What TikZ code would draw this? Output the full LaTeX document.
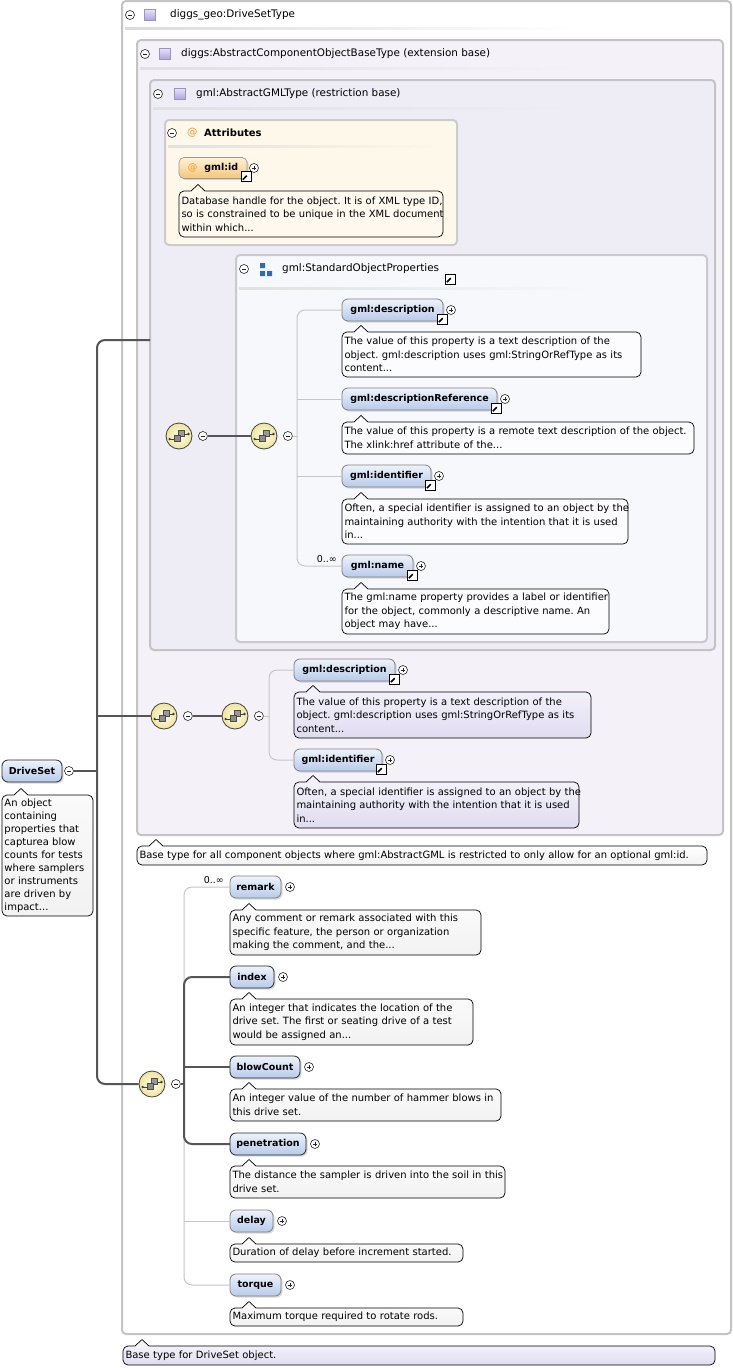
\documentclass[tikz,border=0pt]{standalone}
\usepackage{fontspec}
\setmainfont{DejaVu Sans}
\usetikzlibrary{calc,shadows}
\frenchspacing
\definecolor{boxgray}{HTML}{C4C4C4}
\definecolor{attedge}{HTML}{CCCCCC}
\definecolor{sopedge}{HTML}{CACACE}
\definecolor{b2fill}{HTML}{F4F2F8}
\definecolor{b3fill}{HTML}{EEECF5}
\definecolor{attfill}{HTML}{FDF8EA}
\definecolor{attdesc}{HTML}{FDF9EF}
\definecolor{sopfill}{HTML}{F7F8FC}
\definecolor{sopdesc}{HTML}{FCFCFE}
\definecolor{elemtop}{HTML}{EEF3FB}
\definecolor{elembot}{HTML}{B7CBEA}
\definecolor{idtop}{HTML}{FEF1D4}
\definecolor{idbot}{HTML}{F5C679}
\definecolor{seqin}{HTML}{FFFDE8}
\definecolor{seqout}{HTML}{EEE49C}
\definecolor{thickc}{HTML}{555555}
\definecolor{thinc}{HTML}{C6C6C6}
\definecolor{lavtop}{HTML}{F3F1FA}
\definecolor{lavbot}{HTML}{E0DCF0}
\definecolor{sqtop}{HTML}{E6E2F7}
\definecolor{sqbot}{HTML}{ADA3DB}
\definecolor{sqedge}{HTML}{9A92C8}
\definecolor{atorange}{HTML}{EE9A2A}
\definecolor{grpblue}{HTML}{2C6CB4}
\definecolor{plaindesc}{HTML}{FAFAFA}
\definecolor{plaindescb}{HTML}{F2F2F2}
\newcommand\notch[2]{%
  \fill[#2] ($(#1.north west)+(11.3,1)$) -- ($(#1.north west)+(19,-6.5)$) -- ($(#1.north west)+(26.7,1)$) -- cycle;
  \draw[line width=0.7pt, line join=round] ($(#1.north west)+(12,0)$) -- ($(#1.north west)+(19,-6.5)$) -- ($(#1.north west)+(26,0)$);}
\newcommand\dline[1]{\mbox{#1}}
\begin{document}
\begin{tikzpicture}[x=1pt,y=-1pt,
  typebox/.style={draw=boxgray, line width=2pt, rounded corners=4pt, anchor=north west, inner sep=0pt, outer sep=0pt},
  hdr/.style={anchor=west, inner sep=0pt, font=\fontsize{10.4}{12}\selectfont},
  pmbase/.style={circle, draw=black!85, line width=0.6pt, fill=white, minimum size=9pt, inner sep=0pt},
  pmminus/.style={pmbase, path picture={\draw[shift={(path picture bounding box.center)}, line width=0.6pt] (-2.4,0) -- (2.4,0);}},
  pmplus/.style={pmbase, path picture={\draw[shift={(path picture bounding box.center)}, line width=0.6pt] (-2.4,0) -- (2.4,0) (0,-2.4) -- (0,2.4);}},
  typesq/.style={draw=sqedge, line width=0.6pt, top color=sqtop, bottom color=sqbot, minimum size=11pt, inner sep=0pt},
  linkicon/.style={draw=black, line width=0.8pt, fill=white, minimum size=10pt, inner sep=0pt,
    path picture={\draw[shift={(path picture bounding box.center)}, line width=1.5pt] (-3.2,3.2) -- (0.8,-0.8);
      \fill[shift={(path picture bounding box.center)}] (3.8,-3.8) -- (3.8,1.4) -- (-1.4,-3.8) -- cycle;}},
  elembox/.style={draw=black!85, line width=0.8pt, rounded corners=6pt, top color=elemtop, bottom color=elembot,
    font=\bfseries\fontsize{9.5}{11}\selectfont, minimum height=22pt, inner xsep=5pt, anchor=west, outer sep=0pt,
    drop shadow={shadow xshift=1.6pt, shadow yshift=-1.6pt, opacity=0.3}},
  optelem/.style={elembox, draw=black!50},
  idbox/.style={draw=black!40, line width=0.7pt, rounded corners=5pt, top color=idtop, bottom color=idbot,
    font=\bfseries\fontsize{9.5}{11}\selectfont, minimum height=21pt, inner xsep=5pt, anchor=west, outer sep=0pt,
    drop shadow={shadow xshift=1.6pt, shadow yshift=-1.6pt, opacity=0.3}},
  dsc/.style={draw=black, line width=0.7pt, rounded corners=5pt, font=\fontsize{10}{13.5}\selectfont, align=left,
    anchor=north west, inner xsep=2.5pt, inner ysep=1pt, outer sep=0pt},
  seqicon/.style={circle, draw=black!75, line width=0.8pt, inner color=seqin, outer color=seqout, minimum size=26pt, inner sep=0pt,
    path picture={
      \draw[shift={(path picture bounding box.center)}, black!75, line width=0.7pt] (-9,3) -- (-4,3) (5,-2) -- (9.5,-2);
      \fill[shift={(path picture bounding box.center)}, black!75] (-9.3,3) circle (1.3) (9.5,-2) circle (1.3);
      \filldraw[shift={(path picture bounding box.center)}, draw=black!70, fill=black!40, line width=0.5pt] (-0.5,-5.5) rectangle (5.5,0.5);
      \filldraw[shift={(path picture bounding box.center)}, draw=black!70, fill=black!45, line width=0.5pt] (-4.5,-1) rectangle (1.5,5);}},
  thickconn/.style={draw=thickc, line width=2pt},
  thinconn/.style={draw=thinc, line width=1pt},
  card/.style={anchor=east, inner sep=0pt, font=\fontsize{9.5}{11}\selectfont}
]
\useasboundingbox (0,0) rectangle (733,1368);

% ---------- type boxes ----------
\node[typebox, fill=white, minimum width=609, minimum height=1333] (tb0) at (122,1) {};
\shade[left color=black!14, right color=white] (125,27.5) rectangle (580,29.5);
\node[pmminus] (hm0) at (130,15) {};
\node[typesq] (hs0) at (150,15) {};
\node[hdr] (ht0) at (170,15) {diggs\_geo:DriveSetType};

\node[typebox, fill=b2fill, minimum width=586, minimum height=795] (tb1) at (137,40) {};
\shade[left color=black!12, right color=b2fill] (140,67) rectangle (580,69);
\node[pmminus] (hm1) at (145,54) {};
\node[typesq] (hs1) at (165,54) {};
\node[hdr] (ht1) at (181,54) {diggs:AbstractComponentObjectBaseType (extension base)};

\node[typebox, fill=b3fill, minimum width=565, minimum height=570] (tb2) at (150,80) {};
\shade[left color=black!12, right color=b3fill] (153,107) rectangle (575,109);
\node[pmminus] (hm2) at (158,94) {};
\node[typesq] (hs2) at (180,94) {};
\node[hdr] (ht2) at (196,94) {gml:AbstractGMLType (restriction base)};

% ---------- attributes ----------
\node[typebox, draw=attedge, fill=attfill, minimum width=292, minimum height=125] (tb3) at (165,120) {};
\shade[left color=black!12, right color=attfill] (168,145) rectangle (440,147);
\node[pmminus] (hm3) at (172,133) {};
\node[hdr, text=atorange] (hat) at (187,133) {@};
\node[hdr, font=\bfseries\fontsize{10}{12}\selectfont] (ht3) at (204,133) {Attributes};

\node[idbox, minimum width=68] (gid) at (179,168) {\textcolor{atorange}{\mdseries @}\hspace{7pt}gml:id};
\node[pmplus] (gidp) at ($(gid.east)+(7,0)$) {};
\node[linkicon] (gidl) at ($(gid.south east)+(-1,-2)$) {};
\node[dsc, fill=attdesc, text width=259, minimum height=46] (gidd) at (179,191)
  {\dline{Database handle for the object. It is of XML type ID,}\\\dline{so is constrained to be unique in the XML document}\\\dline{within which...}};
\notch{gidd}{attdesc}

% ---------- StandardObjectProperties ----------
\node[typebox, draw=sopedge, fill=sopfill, minimum width=471, minimum height=387] (tb4) at (236,255) {};
\shade[left color=black!12, right color=sopfill] (239,287) rectangle (590,289);
\node[pmminus] (hm4) at (244,269) {};
\fill[grpblue] (260,263) rectangle (265,268) (260,271) rectangle (265,276) (267,271) rectangle (272,276);
\node[hdr] (ht4) at (282,269) {gml:StandardObjectProperties};
\node[linkicon] (ht4l) at (450,279) {};

% sequence icons in AbstractGMLType
\node[seqicon] (s1) at (179,436) {};
\node[pmminus] (m1) at ($(s1.east)+(10.5,0)$) {};
\node[seqicon] (s2) at (264,436) {};
\node[pmminus] (m2) at ($(s2.east)+(10.5,0)$) {};
\coordinate (j2) at (297,436);

\node[optelem, minimum width=101] (e1) at (342,310) {gml:description};
\node[pmplus] (e1p) at ($(e1.east)+(8,0)$) {};
\node[dsc, fill=sopdesc, text width=294, minimum height=45] (e1d) at (342,332)
  {\dline{The value of this property is a text description of the}\\\dline{object. gml:description uses gml:StringOrRefType as its}\\\dline{content...}};
\notch{e1d}{sopdesc}

\node[optelem, minimum width=155] (e2) at (342,399) {gml:descriptionReference};
\node[pmplus] (e2p) at ($(e2.east)+(8,0)$) {};
\node[dsc, fill=sopdesc, text width=347, minimum height=32] (e2d) at (342,422)
  {\dline{The value of this property is a remote text description of the object.}\\\dline{The xlink:href attribute of the...}};
\notch{e2d}{sopdesc}

\node[optelem, minimum width=89] (e3) at (342,476) {gml:identifier};
\node[pmplus] (e3p) at ($(e3.east)+(8,0)$) {};
\node[dsc, fill=sopdesc, text width=281, minimum height=45] (e3d) at (342,499)
  {\dline{Often, a special identifier is assigned to an object by the}\\\dline{maintaining authority with the intention that it is used}\\\dline{in...}};
\notch{e3d}{sopdesc}

\node[optelem, minimum width=71] (e4) at (342,566) {gml:name};
\node[pmplus] (e4p) at ($(e4.east)+(8,0)$) {};
\node[card] (e4c) at (337,559) {0..∞};
\node[dsc, fill=sopdesc, text width=262, minimum height=45] (e4d) at (342,589)
  {\dline{The gml:name property provides a label or identifier}\\\dline{for the object, commonly a descriptive name. An}\\\dline{object may have...}};
\notch{e4d}{sopdesc}

% ---------- AbstractComponentObjectBaseType sequence ----------
\node[seqicon] (s3) at (164,716) {};
\node[pmminus] (m3) at ($(s3.east)+(10.5,0)$) {};
\node[seqicon] (s4) at (235,716) {};
\node[pmminus] (m4) at ($(s4.east)+(10.5,0)$) {};
\coordinate (j4) at (269,716);

\node[optelem, minimum width=101] (f1) at (294,670) {gml:description};
\node[pmplus] (f1p) at ($(f1.east)+(8,0)$) {};
\node[dsc, top color=lavtop, bottom color=lavbot, text width=292, minimum height=46] (f1d) at (294,692)
  {\dline{The value of this property is a text description of the}\\\dline{object. gml:description uses gml:StringOrRefType as its}\\\dline{content...}};
\notch{f1d}{lavtop}

\node[optelem, minimum width=88] (f2) at (294,760) {gml:identifier};
\node[pmplus] (f2p) at ($(f2.east)+(8,0)$) {};
\node[dsc, top color=lavtop, bottom color=lavbot, text width=280, minimum height=46] (f2d) at (294,782)
  {\dline{Often, a special identifier is assigned to an object by the}\\\dline{maintaining authority with the intention that it is used}\\\dline{in...}};
\notch{f2d}{lavtop}

\node[dsc, top color=white, bottom color=plaindescb, text width=565, minimum height=19] (b2d) at (137,846)
  {\dline{Base type for all component objects where gml:AbstractGML is restricted to only allow for an optional gml:id.}};
\notch{b2d}{white}

% ---------- DriveSet ----------
\node[elembox, minimum width=60] (ds) at (2,771) {DriveSet};
\node[pmminus] (dm) at ($(ds.east)+(7,0)$) {};
\node[dsc, top color=plaindesc, bottom color=plaindescb, text width=86, minimum height=121, font=\fontsize{10}{13}\selectfont] (dsd) at (2,795)
  {An object\\containing\\\dline{properties that}\\\dline{capturea blow}\\\dline{counts for tests}\\\dline{where samplers}\\\dline{or instruments}\\\dline{are driven by}\\impact...};
\notch{dsd}{plaindesc}

% ---------- DriveSetType sequence ----------
\node[seqicon] (s5) at (152,1084) {};
\node[pmminus] (m5) at ($(s5.east)+(10.5,0)$) {};
\coordinate (j5) at (184,1084);

\node[optelem, minimum width=51] (c1) at (230,887) {remark};
\node[pmplus] (c1p) at ($(c1.east)+(9,0)$) {};
\node[card] (c1c) at (224,880) {0..∞};
\node[dsc, top color=plaindesc, bottom color=plaindescb, text width=246, minimum height=45] (c1d) at (230,910)
  {\dline{Any comment or remark associated with this}\\\dline{specific feature, the person or organization}\\\dline{making the comment, and the...}};
\notch{c1d}{plaindesc}

\node[elembox, minimum width=44] (c2) at (230,977) {index};
\node[pmplus] (c2p) at ($(c2.east)+(9,0)$) {};
\node[dsc, top color=plaindesc, bottom color=plaindescb, text width=238, minimum height=46] (c2d) at (230,999)
  {\dline{An integer that indicates the location of the}\\\dline{drive set. The first or seating drive of a test}\\\dline{would be assigned an...}};
\notch{c2d}{plaindesc}

\node[elembox, minimum width=70] (c3) at (230,1067) {blowCount};
\node[pmplus] (c3p) at ($(c3.east)+(9,0)$) {};
\node[dsc, top color=plaindesc, bottom color=plaindescb, text width=266, minimum height=32] (c3d) at (230,1089)
  {\dline{An integer value of the number of hammer blows in}\\\dline{this drive set.}};
\notch{c3d}{plaindesc}

\node[elembox, minimum width=76] (c4) at (230,1144) {penetration};
\node[pmplus] (c4p) at ($(c4.east)+(9,0)$) {};
\node[dsc, top color=plaindesc, bottom color=plaindescb, text width=270, minimum height=32] (c4d) at (230,1166)
  {\dline{The distance the sampler is driven into the soil in this}\\\dline{drive set.}};
\notch{c4d}{plaindesc}

\node[optelem, minimum width=43] (c5) at (230,1221) {delay};
\node[pmplus] (c5p) at ($(c5.east)+(9,0)$) {};
\node[dsc, top color=plaindesc, bottom color=plaindescb, text width=228, minimum height=18] (c5d) at (230,1244)
  {\dline{Duration of delay before increment started.}};
\notch{c5d}{plaindesc}

\node[optelem, minimum width=51] (c6) at (230,1285) {torque};
\node[pmplus] (c6p) at ($(c6.east)+(9,0)$) {};
\node[dsc, top color=plaindesc, bottom color=plaindescb, text width=228, minimum height=18] (c6d) at (230,1308)
  {\dline{Maximum torque required to rotate rods.}};
\notch{c6d}{plaindesc}

\node[dsc, top color=lavtop, bottom color=lavbot, text width=587, minimum height=19] (b0d) at (123,1346)
  {\dline{Base type for DriveSet object.}};
\notch{b0d}{lavtop}

% link icons (drawn on top)
\foreach \n in {e1,e2,e3,e4,f1,f2}{\node[linkicon] (\n l) at ($(\n.south east)+(-1,-2)$) {};}

% ---------- connectors ----------
\coordinate (trunk) at (97,771);
\coordinate (b3in) at (150,340);
\draw[thickconn, rounded corners=8pt] (b3in) -| (trunk) |- (s5.west);
\draw[thickconn] (dm.east) -- (trunk);
\draw[thickconn] (trunk |- s3.west) -- (s3.west);
\draw[thickconn] (m1.east) -- (s2.west);
\draw[thickconn] (m3.east) -- (s4.west);

\draw[thinconn] (m2.east) -- (j2);
\draw[thinconn, rounded corners=8pt] (e1.west) -| (j2) |- (e4.west);
\draw[thinconn] (j2 |- e2.west) -- (e2.west);
\draw[thinconn] (j2 |- e3.west) -- (e3.west);

\draw[thinconn] (m4.east) -- (j4);
\draw[thinconn, rounded corners=8pt] (f1.west) -| (j4) |- (f2.west);

\draw[thinconn, rounded corners=8pt] (c1.west) -| (j5) |- (c6.west);
\draw[thinconn] (j5 |- c5.west) -- (c5.west);
\draw[thickconn, rounded corners=8pt] (c2.west) -| (j5) |- (c4.west);
\draw[thickconn] (j5 |- c3.west) -- (c3.west);
\draw[thickconn] (m5.east) -- (j5);
\end{tikzpicture}
\end{document}
